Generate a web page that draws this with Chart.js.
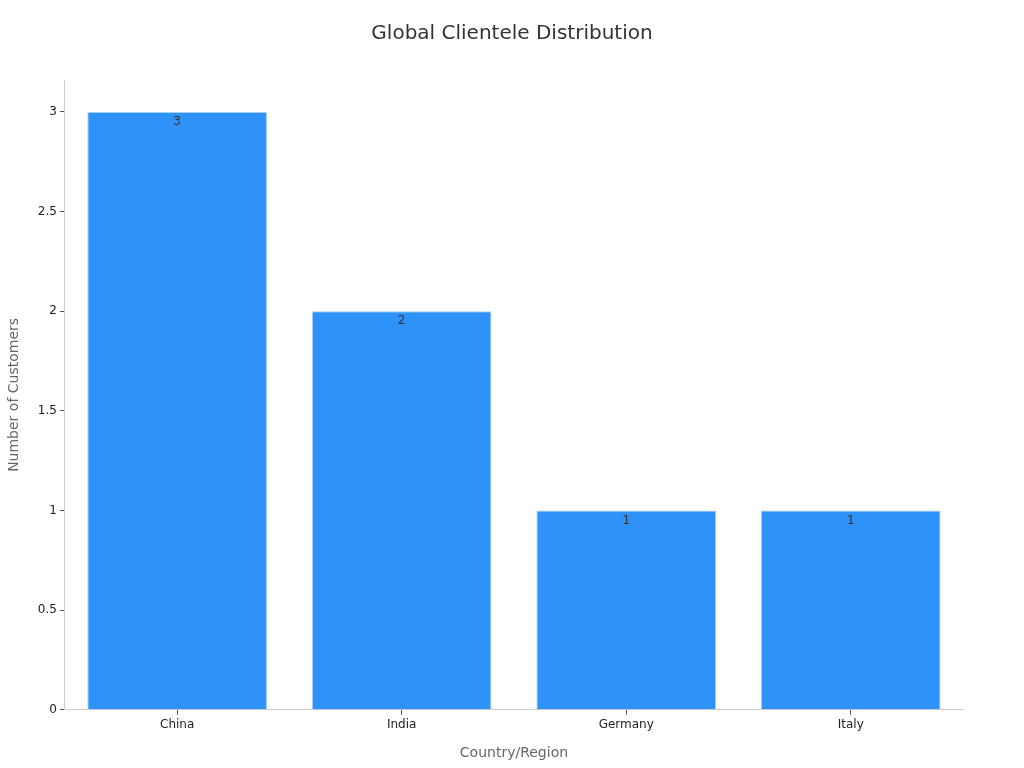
<!DOCTYPE html>
<html>
<head>
<meta charset="utf-8">
<script src="https://cdn.jsdelivr.net/npm/chart.js@4"></script>
<style>
  html, body { margin: 0; padding: 0; background: #fff; }
  #wrap { width: 1024px; height: 768px; }
</style>
</head>
<body>
<div id="wrap"><canvas id="myChart"></canvas></div>
<script>
const chartTitle = 'Global Clientele Distribution';
const countries = ['China', 'India', 'Germany', 'Italy'];
const customers = [3, 2, 1, 1];
const yTicks = [0, 0.5, 1, 1.5, 2, 2.5, 3];

Chart.defaults.font.family = '"DejaVu Sans", sans-serif';

// title centred on the whole canvas, not on the padded box
const canvasTitle = {
    id: 'canvasTitle',
    afterDraw(chart) {
        const c = chart.ctx;
        c.save();
        c.font = '20px "DejaVu Sans", sans-serif';
        c.fillStyle = '#333333';
        c.textAlign = 'center';
        c.textBaseline = 'middle';
        c.fillText(chartTitle, chart.width / 2, 34);
        c.restore();
    }
};

// draws the count just inside the top of each bar
const valueLabels = {
    id: 'valueLabels',
    afterDatasetsDraw(chart) {
        const c = chart.ctx;
        const meta = chart.getDatasetMeta(0);
        c.save();
        c.font = '12px "DejaVu Sans", sans-serif';
        c.fillStyle = '#333333';
        c.textAlign = 'center';
        c.textBaseline = 'middle';
        meta.data.forEach((bar, i) => {
            c.fillText(String(customers[i]), bar.x, bar.y + 10);
        });
        c.restore();
    }
};

const ctx = document.getElementById('myChart');
new Chart(ctx, {
    type: 'bar',
    data: {
        labels: countries,
        datasets: [{
            data: customers,
            backgroundColor: '#2f92f8',
            borderColor: '#a8d0fa',
            borderWidth: 1,
            barPercentage: 0.8,
            categoryPercentage: 1.0
        }]
    },
    options: {
        responsive: true,
        maintainAspectRatio: false,
        animation: false,
        layout: { padding: { left: 2, right: 61, top: 80, bottom: 2 } },
        scales: {
            x: {
                grid: { display: true, offset: false, drawOnChartArea: false, drawTicks: true, tickLength: 5, tickColor: '#555' },
                border: { color: '#cccccc' },
                ticks: { color: '#222', font: { size: 12 }, padding: 3 },
                title: { display: true, text: 'Country/Region', color: '#666', font: { size: 14 }, padding: { top: 10 } }
            },
            y: {
                min: 0,
                max: 3.16,
                afterBuildTicks(axis) {
                    axis.ticks = yTicks.map(v => ({ value: v }));
                },
                grid: { display: true, drawOnChartArea: false, drawTicks: true, tickLength: 5, tickColor: '#555' },
                border: { color: '#cccccc' },
                ticks: { color: '#222', font: { size: 12 }, padding: 3, callback: v => String(v) },
                title: { display: true, text: 'Number of Customers', color: '#666', font: { size: 14 }, padding: { bottom: 12 } }
            }
        },
        plugins: {
            legend: { display: false },
            tooltip: { enabled: false },
            title: { display: false }
        }
    },
    plugins: [valueLabels, canvasTitle]
});
</script>
</body>
</html>
